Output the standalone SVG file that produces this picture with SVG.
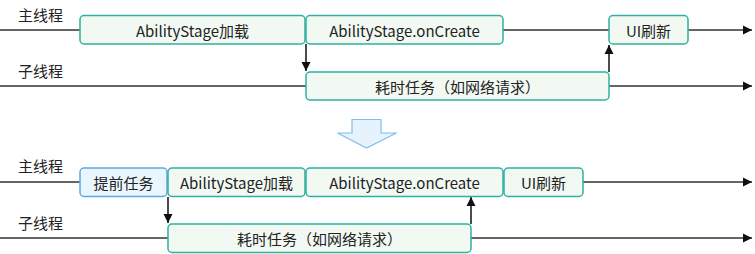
<svg xmlns="http://www.w3.org/2000/svg" width="755" height="254" viewBox="0 0 755 254">
<style>
.g{fill:#f2f9f3;stroke:#2fb0a0;stroke-width:1.5}
.b{fill:#eaf6fd;stroke:#5ea9e2;stroke-width:1.5}
.t{font-family:"Noto Sans CJK SC","Noto Sans",sans-serif;font-size:15px;fill:#222;text-anchor:middle;dominant-baseline:central}
.l{font-family:"Noto Sans CJK SC","Noto Sans",sans-serif;font-size:15px;fill:#222}
.ln{stroke:#333;stroke-width:1.5;fill:none}
.ar{stroke:#111;stroke-width:1.5;fill:none}
</style>
<defs>
<marker id="ah" markerWidth="10" markerHeight="10" refX="9" refY="5" orient="auto" markerUnits="userSpaceOnUse">
<path d="M0,0.5 L9,5 L0,9.5 Z" fill="#111"/>
</marker>
</defs>
<rect width="755" height="254" fill="#fff"/>
<g id="labels">
<text class="l" x="18" y="21">主线程</text>
<text class="l" x="18" y="77">子线程</text>
<text class="l" x="18" y="172">主线程</text>
<text class="l" x="18" y="229">子线程</text>
</g>
<g id="connectors">
<line class="ln" x1="0" y1="30" x2="752" y2="30" marker-end="url(#ah)"/>
<line class="ln" x1="0" y1="86" x2="752" y2="86" marker-end="url(#ah)"/>
<line class="ln" x1="0" y1="182" x2="752" y2="182" marker-end="url(#ah)"/>
<line class="ln" x1="0" y1="238" x2="752" y2="238" marker-end="url(#ah)"/>
<line class="ar" x1="306" y1="44" x2="306" y2="71" marker-end="url(#ah)"/>
<line class="ar" x1="609" y1="72" x2="609" y2="45" marker-end="url(#ah)"/>
<line class="ar" x1="168" y1="197" x2="168" y2="223" marker-end="url(#ah)"/>
<line class="ar" x1="471" y1="224" x2="471" y2="197" marker-end="url(#ah)"/>
</g>
<g id="n1"><rect class="g" x="80" y="15.5" width="225" height="28.5" rx="4"/><text class="t" x="192.5" y="30">AbilityStage加载</text></g>
<g id="n2"><rect class="g" x="306" y="15.5" width="197" height="28.5" rx="4"/><text class="t" x="404.5" y="30">AbilityStage.onCreate</text></g>
<g id="n3"><rect class="g" x="609" y="15.5" width="79" height="28.5" rx="4"/><text class="t" x="648.5" y="30">UI刷新</text></g>
<g id="n4"><rect class="g" x="306" y="72" width="303" height="28" rx="4"/><text class="t" x="457.5" y="86">耗时任务（如网络请求）</text></g>
<g id="bigArrow"><path d="M352,119.5 L381,119.5 L381,133 L396.5,133 L366.5,148 L337.5,133 L352,133 Z" fill="#e6f3fc" stroke="#7fc0ea" stroke-width="1.2"/></g>
<g id="n5"><rect class="b" x="80" y="168" width="87" height="28.5" rx="4"/><text class="t" x="123.5" y="182">提前任务</text></g>
<g id="n6"><rect class="g" x="168" y="168" width="137" height="28.5" rx="4"/><text class="t" x="236.5" y="182">AbilityStage加载</text></g>
<g id="n7"><rect class="g" x="306" y="168" width="197" height="28.5" rx="4"/><text class="t" x="404.5" y="182">AbilityStage.onCreate</text></g>
<g id="n8"><rect class="g" x="504" y="168" width="79" height="28.5" rx="4"/><text class="t" x="543.5" y="182">UI刷新</text></g>
<g id="n9"><rect class="g" x="168" y="224" width="303" height="28.5" rx="4"/><text class="t" x="319.5" y="238">耗时任务（如网络请求）</text></g>
</svg>
